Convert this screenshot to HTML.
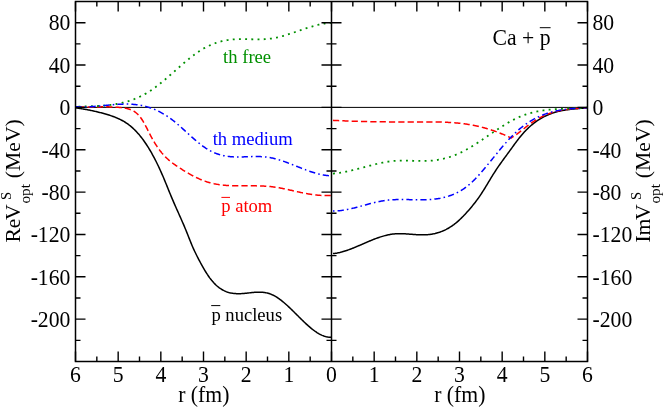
<!DOCTYPE html>
<html><head><meta charset="utf-8"><title>chart</title><style>html,body{margin:0;padding:0;background:#fff}body{width:664px;height:407px;overflow:hidden;font-family:"Liberation Serif",serif}</style></head><body><div style="will-change:transform;width:664px;height:407px">
<svg width="664" height="407" viewBox="0 0 664 407" style="display:block;font-family:'Liberation Serif',serif">
<rect width="664" height="407" fill="#fff"/>
<line x1="75.5" y1="107.4" x2="587.5" y2="107.4" stroke="#000" stroke-width="1"/>
<path d="M75.50 107.90 L76.36 108.01 L77.21 108.12 L78.07 108.24 L78.92 108.36 L79.78 108.48 L80.64 108.61 L81.49 108.74 L82.35 108.88 L83.21 109.02 L84.06 109.16 L84.92 109.31 L85.77 109.46 L86.63 109.61 L87.49 109.77 L88.34 109.93 L89.20 110.10 L90.06 110.27 L90.91 110.44 L91.77 110.62 L92.62 110.80 L93.48 110.99 L94.34 111.18 L95.19 111.37 L96.05 111.57 L96.90 111.78 L97.76 111.98 L98.62 112.19 L99.47 112.41 L100.33 112.63 L101.19 112.85 L102.04 113.08 L102.90 113.31 L103.75 113.55 L104.61 113.79 L105.47 114.03 L106.32 114.28 L107.18 114.53 L108.04 114.79 L108.89 115.05 L109.75 115.32 L110.60 115.60 L111.46 115.89 L112.32 116.18 L113.17 116.49 L114.03 116.80 L114.88 117.13 L115.74 117.47 L116.60 117.82 L117.45 118.19 L118.31 118.57 L119.17 118.97 L120.02 119.38 L120.88 119.81 L121.73 120.26 L122.59 120.73 L123.45 121.22 L124.30 121.73 L125.16 122.26 L126.02 122.81 L126.87 123.39 L127.73 123.99 L128.58 124.61 L129.44 125.26 L130.30 125.94 L131.15 126.65 L132.01 127.38 L132.86 128.14 L133.72 128.94 L134.58 129.76 L135.43 130.62 L136.29 131.50 L137.15 132.42 L138.00 133.38 L138.86 134.36 L139.71 135.38 L140.57 136.43 L141.43 137.52 L142.28 138.64 L143.14 139.79 L143.99 140.98 L144.85 142.20 L145.71 143.45 L146.56 144.74 L147.42 146.07 L148.28 147.43 L149.13 148.82 L149.99 150.25 L150.84 151.72 L151.70 153.22 L152.56 154.76 L153.41 156.33 L154.27 157.94 L155.13 159.59 L155.98 161.27 L156.84 162.99 L157.69 164.74 L158.55 166.54 L159.41 168.37 L160.26 170.24 L161.12 172.14 L161.97 174.08 L162.83 176.06 L163.69 178.06 L164.54 180.10 L165.40 182.17 L166.26 184.26 L167.11 186.37 L167.97 188.49 L168.82 190.61 L169.68 192.73 L170.54 194.82 L171.39 196.88 L172.25 198.91 L173.11 200.91 L173.96 202.89 L174.82 204.84 L175.67 206.78 L176.53 208.70 L177.39 210.62 L178.24 212.53 L179.10 214.44 L179.95 216.36 L180.81 218.28 L181.67 220.22 L182.52 222.18 L183.38 224.16 L184.24 226.17 L185.09 228.21 L185.95 230.29 L186.80 232.40 L187.66 234.55 L188.52 236.70 L189.37 238.86 L190.23 241.00 L191.09 243.11 L191.94 245.18 L192.80 247.19 L193.65 249.13 L194.51 250.99 L195.37 252.78 L196.22 254.52 L197.08 256.22 L197.93 257.89 L198.79 259.54 L199.65 261.17 L200.50 262.77 L201.36 264.35 L202.22 265.90 L203.07 267.41 L203.93 268.89 L204.78 270.34 L205.64 271.75 L206.50 273.11 L207.35 274.44 L208.21 275.72 L209.07 276.95 L209.92 278.12 L210.78 279.25 L211.63 280.32 L212.49 281.35 L213.35 282.32 L214.20 283.24 L215.06 284.11 L215.91 284.94 L216.77 285.72 L217.63 286.45 L218.48 287.15 L219.34 287.79 L220.20 288.40 L221.05 288.97 L221.91 289.50 L222.76 289.99 L223.62 290.44 L224.48 290.86 L225.33 291.25 L226.19 291.60 L227.05 291.92 L227.90 292.21 L228.76 292.47 L229.61 292.70 L230.47 292.90 L231.33 293.08 L232.18 293.23 L233.04 293.36 L233.89 293.46 L234.75 293.55 L235.61 293.61 L236.46 293.66 L237.32 293.69 L238.18 293.70 L239.03 293.69 L239.89 293.68 L240.74 293.64 L241.60 293.60 L242.46 293.54 L243.31 293.48 L244.17 293.41 L245.03 293.33 L245.88 293.24 L246.74 293.15 L247.59 293.06 L248.45 292.97 L249.31 292.87 L250.16 292.78 L251.02 292.68 L251.87 292.60 L252.73 292.51 L253.59 292.43 L254.44 292.36 L255.30 292.30 L256.16 292.25 L257.01 292.21 L257.87 292.18 L258.72 292.16 L259.58 292.16 L260.44 292.18 L261.29 292.21 L262.15 292.27 L263.01 292.34 L263.86 292.43 L264.72 292.55 L265.57 292.69 L266.43 292.86 L267.29 293.05 L268.14 293.27 L269.00 293.52 L269.85 293.81 L270.71 294.12 L271.57 294.46 L272.42 294.84 L273.28 295.26 L274.14 295.70 L274.99 296.17 L275.85 296.67 L276.70 297.20 L277.56 297.75 L278.42 298.33 L279.27 298.94 L280.13 299.57 L280.98 300.22 L281.84 300.89 L282.70 301.58 L283.55 302.28 L284.41 303.01 L285.27 303.75 L286.12 304.51 L286.98 305.28 L287.83 306.07 L288.69 306.86 L289.55 307.67 L290.40 308.49 L291.26 309.31 L292.12 310.15 L292.97 310.99 L293.83 311.83 L294.68 312.68 L295.54 313.53 L296.40 314.39 L297.25 315.24 L298.11 316.09 L298.96 316.95 L299.82 317.80 L300.68 318.64 L301.53 319.49 L302.39 320.32 L303.25 321.15 L304.10 321.97 L304.96 322.78 L305.81 323.58 L306.67 324.37 L307.53 325.14 L308.38 325.91 L309.24 326.65 L310.10 327.39 L310.95 328.10 L311.81 328.80 L312.66 329.47 L313.52 330.13 L314.38 330.76 L315.23 331.38 L316.09 331.96 L316.94 332.53 L317.80 333.06 L318.66 333.57 L319.51 334.05 L320.37 334.51 L321.23 334.93 L322.08 335.32 L322.94 335.67 L323.79 336.00 L324.65 336.29 L325.51 336.54 L326.36 336.75 L327.22 336.93 L328.08 337.06 L328.93 337.16 L329.79 337.22 L330.64 337.23 L331.50 337.19" fill="none" stroke="#000" stroke-width="1.5"/>
<path d="M75.50 106.80 L76.36 106.86 L77.21 106.90 L78.07 106.95 L78.92 106.99 L79.78 107.02 L80.64 107.04 L81.49 107.07 L82.35 107.08 L83.21 107.10 L84.06 107.11 L84.92 107.11 L85.77 107.11 L86.63 107.11 L87.49 107.11 L88.34 107.10 L89.20 107.09 L90.06 107.08 L90.91 107.07 L91.77 107.05 L92.62 107.04 L93.48 107.02 L94.34 107.00 L95.19 106.98 L96.05 106.96 L96.90 106.95 L97.76 106.93 L98.62 106.91 L99.47 106.89 L100.33 106.88 L101.19 106.87 L102.04 106.85 L102.90 106.84 L103.75 106.84 L104.61 106.83 L105.47 106.83 L106.32 106.83 L107.18 106.84 L108.04 106.85 L108.89 106.86 L109.75 106.88 L110.60 106.90 L111.46 106.92 L112.32 106.95 L113.17 106.99 L114.03 107.03 L114.88 107.08 L115.74 107.14 L116.60 107.20 L117.45 107.27 L118.31 107.34 L119.17 107.42 L120.02 107.51 L120.88 107.61 L121.73 107.72 L122.59 107.83 L123.45 107.95 L124.30 108.09 L125.16 108.23 L126.02 108.38 L126.87 108.56 L127.73 108.75 L128.58 108.97 L129.44 109.23 L130.30 109.52 L131.15 109.85 L132.01 110.22 L132.86 110.65 L133.72 111.13 L134.58 111.68 L135.43 112.28 L136.29 112.96 L137.15 113.71 L138.00 114.54 L138.86 115.45 L139.71 116.45 L140.57 117.54 L141.43 118.73 L142.28 120.02 L143.14 121.41 L143.99 122.88 L144.85 124.42 L145.71 126.02 L146.56 127.67 L147.42 129.36 L148.28 131.06 L149.13 132.75 L149.99 134.42 L150.84 136.05 L151.70 137.63 L152.56 139.18 L153.41 140.67 L154.27 142.12 L155.13 143.53 L155.98 144.89 L156.84 146.21 L157.69 147.48 L158.55 148.70 L159.41 149.87 L160.26 151.00 L161.12 152.08 L161.97 153.12 L162.83 154.11 L163.69 155.07 L164.54 155.99 L165.40 156.87 L166.26 157.72 L167.11 158.53 L167.97 159.32 L168.82 160.07 L169.68 160.80 L170.54 161.50 L171.39 162.19 L172.25 162.85 L173.11 163.49 L173.96 164.11 L174.82 164.72 L175.67 165.31 L176.53 165.89 L177.39 166.46 L178.24 167.03 L179.10 167.58 L179.95 168.14 L180.81 168.68 L181.67 169.23 L182.52 169.77 L183.38 170.30 L184.24 170.83 L185.09 171.35 L185.95 171.87 L186.80 172.38 L187.66 172.88 L188.52 173.38 L189.37 173.87 L190.23 174.35 L191.09 174.82 L191.94 175.29 L192.80 175.75 L193.65 176.20 L194.51 176.64 L195.37 177.07 L196.22 177.49 L197.08 177.90 L197.93 178.30 L198.79 178.69 L199.65 179.07 L200.50 179.44 L201.36 179.80 L202.22 180.15 L203.07 180.48 L203.93 180.80 L204.78 181.11 L205.64 181.41 L206.50 181.69 L207.35 181.97 L208.21 182.23 L209.07 182.48 L209.92 182.71 L210.78 182.94 L211.63 183.15 L212.49 183.36 L213.35 183.55 L214.20 183.74 L215.06 183.91 L215.91 184.08 L216.77 184.23 L217.63 184.38 L218.48 184.51 L219.34 184.64 L220.20 184.76 L221.05 184.88 L221.91 184.98 L222.76 185.08 L223.62 185.17 L224.48 185.25 L225.33 185.33 L226.19 185.40 L227.05 185.46 L227.90 185.52 L228.76 185.57 L229.61 185.62 L230.47 185.66 L231.33 185.70 L232.18 185.73 L233.04 185.76 L233.89 185.79 L234.75 185.81 L235.61 185.82 L236.46 185.84 L237.32 185.85 L238.18 185.86 L239.03 185.86 L239.89 185.87 L240.74 185.87 L241.60 185.87 L242.46 185.87 L243.31 185.87 L244.17 185.86 L245.03 185.86 L245.88 185.86 L246.74 185.85 L247.59 185.85 L248.45 185.85 L249.31 185.84 L250.16 185.84 L251.02 185.84 L251.87 185.84 L252.73 185.84 L253.59 185.85 L254.44 185.85 L255.30 185.86 L256.16 185.87 L257.01 185.88 L257.87 185.90 L258.72 185.91 L259.58 185.94 L260.44 185.96 L261.29 185.99 L262.15 186.02 L263.01 186.06 L263.86 186.10 L264.72 186.15 L265.57 186.20 L266.43 186.26 L267.29 186.32 L268.14 186.39 L269.00 186.46 L269.85 186.54 L270.71 186.62 L271.57 186.72 L272.42 186.81 L273.28 186.92 L274.14 187.03 L274.99 187.15 L275.85 187.28 L276.70 187.41 L277.56 187.55 L278.42 187.70 L279.27 187.85 L280.13 188.00 L280.98 188.16 L281.84 188.33 L282.70 188.50 L283.55 188.67 L284.41 188.85 L285.27 189.03 L286.12 189.21 L286.98 189.40 L287.83 189.58 L288.69 189.77 L289.55 189.96 L290.40 190.16 L291.26 190.35 L292.12 190.54 L292.97 190.74 L293.83 190.93 L294.68 191.12 L295.54 191.32 L296.40 191.51 L297.25 191.70 L298.11 191.89 L298.96 192.07 L299.82 192.26 L300.68 192.44 L301.53 192.62 L302.39 192.79 L303.25 192.96 L304.10 193.13 L304.96 193.29 L305.81 193.45 L306.67 193.61 L307.53 193.75 L308.38 193.90 L309.24 194.04 L310.10 194.17 L310.95 194.30 L311.81 194.43 L312.66 194.55 L313.52 194.66 L314.38 194.77 L315.23 194.87 L316.09 194.96 L316.94 195.05 L317.80 195.14 L318.66 195.21 L319.51 195.28 L320.37 195.35 L321.23 195.40 L322.08 195.45 L322.94 195.50 L323.79 195.53 L324.65 195.56 L325.51 195.58 L326.36 195.59 L327.22 195.60 L328.08 195.59 L328.93 195.58 L329.79 195.56 L330.64 195.54 L331.50 195.50" fill="none" stroke="#ff0000" stroke-width="1.5" stroke-dasharray="6.22 3.11" stroke-dashoffset="-2.7"/>
<path d="M75.50 106.70 L76.36 106.67 L77.21 106.65 L78.07 106.62 L78.92 106.60 L79.78 106.58 L80.64 106.56 L81.49 106.54 L82.35 106.52 L83.21 106.50 L84.06 106.48 L84.92 106.46 L85.77 106.44 L86.63 106.42 L87.49 106.40 L88.34 106.37 L89.20 106.35 L90.06 106.32 L90.91 106.30 L91.77 106.27 L92.62 106.24 L93.48 106.21 L94.34 106.18 L95.19 106.14 L96.05 106.10 L96.90 106.06 L97.76 106.02 L98.62 105.97 L99.47 105.92 L100.33 105.87 L101.19 105.81 L102.04 105.75 L102.90 105.69 L103.75 105.62 L104.61 105.55 L105.47 105.47 L106.32 105.39 L107.18 105.31 L108.04 105.21 L108.89 105.12 L109.75 105.02 L110.60 104.91 L111.46 104.80 L112.32 104.68 L113.17 104.56 L114.03 104.43 L114.88 104.29 L115.74 104.15 L116.60 104.00 L117.45 103.84 L118.31 103.68 L119.17 103.50 L120.02 103.33 L120.88 103.14 L121.73 102.95 L122.59 102.74 L123.45 102.53 L124.30 102.32 L125.16 102.09 L126.02 101.85 L126.87 101.61 L127.73 101.36 L128.58 101.09 L129.44 100.82 L130.30 100.54 L131.15 100.25 L132.01 99.95 L132.86 99.64 L133.72 99.32 L134.58 98.98 L135.43 98.64 L136.29 98.29 L137.15 97.92 L138.00 97.55 L138.86 97.16 L139.71 96.76 L140.57 96.35 L141.43 95.93 L142.28 95.50 L143.14 95.05 L143.99 94.60 L144.85 94.12 L145.71 93.64 L146.56 93.14 L147.42 92.63 L148.28 92.11 L149.13 91.58 L149.99 91.03 L150.84 90.46 L151.70 89.89 L152.56 89.30 L153.41 88.69 L154.27 88.08 L155.13 87.46 L155.98 86.82 L156.84 86.17 L157.69 85.52 L158.55 84.85 L159.41 84.18 L160.26 83.49 L161.12 82.80 L161.97 82.10 L162.83 81.39 L163.69 80.68 L164.54 79.96 L165.40 79.24 L166.26 78.51 L167.11 77.77 L167.97 77.03 L168.82 76.29 L169.68 75.54 L170.54 74.79 L171.39 74.04 L172.25 73.29 L173.11 72.53 L173.96 71.78 L174.82 71.02 L175.67 70.26 L176.53 69.51 L177.39 68.75 L178.24 68.00 L179.10 67.25 L179.95 66.50 L180.81 65.75 L181.67 65.00 L182.52 64.26 L183.38 63.53 L184.24 62.80 L185.09 62.07 L185.95 61.35 L186.80 60.63 L187.66 59.93 L188.52 59.23 L189.37 58.53 L190.23 57.85 L191.09 57.17 L191.94 56.50 L192.80 55.84 L193.65 55.19 L194.51 54.55 L195.37 53.93 L196.22 53.31 L197.08 52.70 L197.93 52.11 L198.79 51.53 L199.65 50.96 L200.50 50.41 L201.36 49.87 L202.22 49.35 L203.07 48.84 L203.93 48.34 L204.78 47.86 L205.64 47.40 L206.50 46.95 L207.35 46.52 L208.21 46.10 L209.07 45.69 L209.92 45.30 L210.78 44.93 L211.63 44.56 L212.49 44.22 L213.35 43.88 L214.20 43.56 L215.06 43.25 L215.91 42.95 L216.77 42.67 L217.63 42.40 L218.48 42.14 L219.34 41.90 L220.20 41.66 L221.05 41.44 L221.91 41.23 L222.76 41.03 L223.62 40.84 L224.48 40.66 L225.33 40.49 L226.19 40.33 L227.05 40.19 L227.90 40.05 L228.76 39.92 L229.61 39.80 L230.47 39.70 L231.33 39.60 L232.18 39.51 L233.04 39.43 L233.89 39.35 L234.75 39.29 L235.61 39.23 L236.46 39.19 L237.32 39.15 L238.18 39.11 L239.03 39.09 L239.89 39.07 L240.74 39.06 L241.60 39.05 L242.46 39.05 L243.31 39.06 L244.17 39.07 L245.03 39.08 L245.88 39.10 L246.74 39.11 L247.59 39.14 L248.45 39.16 L249.31 39.18 L250.16 39.21 L251.02 39.23 L251.87 39.26 L252.73 39.28 L253.59 39.30 L254.44 39.32 L255.30 39.34 L256.16 39.35 L257.01 39.36 L257.87 39.37 L258.72 39.37 L259.58 39.37 L260.44 39.36 L261.29 39.34 L262.15 39.32 L263.01 39.29 L263.86 39.26 L264.72 39.21 L265.57 39.16 L266.43 39.10 L267.29 39.02 L268.14 38.94 L269.00 38.84 L269.85 38.74 L270.71 38.62 L271.57 38.50 L272.42 38.36 L273.28 38.21 L274.14 38.05 L274.99 37.89 L275.85 37.71 L276.70 37.53 L277.56 37.34 L278.42 37.13 L279.27 36.93 L280.13 36.71 L280.98 36.49 L281.84 36.26 L282.70 36.02 L283.55 35.78 L284.41 35.53 L285.27 35.28 L286.12 35.02 L286.98 34.76 L287.83 34.49 L288.69 34.22 L289.55 33.95 L290.40 33.67 L291.26 33.39 L292.12 33.10 L292.97 32.82 L293.83 32.53 L294.68 32.24 L295.54 31.95 L296.40 31.65 L297.25 31.36 L298.11 31.07 L298.96 30.77 L299.82 30.48 L300.68 30.18 L301.53 29.89 L302.39 29.60 L303.25 29.31 L304.10 29.02 L304.96 28.74 L305.81 28.46 L306.67 28.18 L307.53 27.90 L308.38 27.63 L309.24 27.36 L310.10 27.09 L310.95 26.83 L311.81 26.57 L312.66 26.32 L313.52 26.08 L314.38 25.84 L315.23 25.61 L316.09 25.38 L316.94 25.16 L317.80 24.95 L318.66 24.74 L319.51 24.55 L320.37 24.36 L321.23 24.18 L322.08 24.00 L322.94 23.84 L323.79 23.69 L324.65 23.55 L325.51 23.41 L326.36 23.29 L327.22 23.18 L328.08 23.08 L328.93 22.99 L329.79 22.91 L330.64 22.85 L331.50 22.79" fill="none" stroke="#009000" stroke-width="1.8" stroke-dasharray="1.9 4.3" stroke-dashoffset="-3.0"/>
<path d="M75.50 106.70 L76.36 106.76 L77.21 106.81 L78.07 106.85 L78.92 106.89 L79.78 106.91 L80.64 106.93 L81.49 106.95 L82.35 106.95 L83.21 106.95 L84.06 106.94 L84.92 106.93 L85.77 106.91 L86.63 106.88 L87.49 106.85 L88.34 106.81 L89.20 106.77 L90.06 106.73 L90.91 106.68 L91.77 106.62 L92.62 106.56 L93.48 106.50 L94.34 106.43 L95.19 106.37 L96.05 106.30 L96.90 106.22 L97.76 106.15 L98.62 106.07 L99.47 105.99 L100.33 105.91 L101.19 105.82 L102.04 105.74 L102.90 105.66 L103.75 105.57 L104.61 105.49 L105.47 105.40 L106.32 105.32 L107.18 105.24 L108.04 105.15 L108.89 105.07 L109.75 104.99 L110.60 104.91 L111.46 104.84 L112.32 104.76 L113.17 104.69 L114.03 104.62 L114.88 104.56 L115.74 104.49 L116.60 104.43 L117.45 104.38 L118.31 104.33 L119.17 104.28 L120.02 104.24 L120.88 104.20 L121.73 104.17 L122.59 104.14 L123.45 104.12 L124.30 104.11 L125.16 104.10 L126.02 104.09 L126.87 104.10 L127.73 104.11 L128.58 104.13 L129.44 104.15 L130.30 104.19 L131.15 104.23 L132.01 104.28 L132.86 104.34 L133.72 104.40 L134.58 104.48 L135.43 104.56 L136.29 104.66 L137.15 104.77 L138.00 104.88 L138.86 105.01 L139.71 105.14 L140.57 105.29 L141.43 105.45 L142.28 105.62 L143.14 105.80 L143.99 105.99 L144.85 106.20 L145.71 106.42 L146.56 106.65 L147.42 106.89 L148.28 107.15 L149.13 107.42 L149.99 107.70 L150.84 108.00 L151.70 108.30 L152.56 108.63 L153.41 108.96 L154.27 109.31 L155.13 109.67 L155.98 110.04 L156.84 110.43 L157.69 110.84 L158.55 111.25 L159.41 111.68 L160.26 112.13 L161.12 112.58 L161.97 113.06 L162.83 113.54 L163.69 114.04 L164.54 114.56 L165.40 115.09 L166.26 115.63 L167.11 116.19 L167.97 116.77 L168.82 117.36 L169.68 117.96 L170.54 118.58 L171.39 119.21 L172.25 119.86 L173.11 120.53 L173.96 121.21 L174.82 121.90 L175.67 122.60 L176.53 123.32 L177.39 124.05 L178.24 124.78 L179.10 125.53 L179.95 126.28 L180.81 127.04 L181.67 127.81 L182.52 128.58 L183.38 129.36 L184.24 130.14 L185.09 130.92 L185.95 131.70 L186.80 132.48 L187.66 133.27 L188.52 134.05 L189.37 134.83 L190.23 135.60 L191.09 136.38 L191.94 137.14 L192.80 137.90 L193.65 138.66 L194.51 139.41 L195.37 140.14 L196.22 140.87 L197.08 141.59 L197.93 142.30 L198.79 143.00 L199.65 143.68 L200.50 144.36 L201.36 145.01 L202.22 145.66 L203.07 146.29 L203.93 146.90 L204.78 147.49 L205.64 148.07 L206.50 148.62 L207.35 149.16 L208.21 149.68 L209.07 150.17 L209.92 150.65 L210.78 151.10 L211.63 151.54 L212.49 151.95 L213.35 152.34 L214.20 152.71 L215.06 153.07 L215.91 153.40 L216.77 153.72 L217.63 154.02 L218.48 154.30 L219.34 154.57 L220.20 154.81 L221.05 155.05 L221.91 155.26 L222.76 155.46 L223.62 155.65 L224.48 155.82 L225.33 155.98 L226.19 156.12 L227.05 156.25 L227.90 156.37 L228.76 156.48 L229.61 156.57 L230.47 156.65 L231.33 156.72 L232.18 156.78 L233.04 156.83 L233.89 156.88 L234.75 156.91 L235.61 156.94 L236.46 156.95 L237.32 156.96 L238.18 156.97 L239.03 156.97 L239.89 156.96 L240.74 156.95 L241.60 156.93 L242.46 156.91 L243.31 156.89 L244.17 156.86 L245.03 156.84 L245.88 156.81 L246.74 156.78 L247.59 156.75 L248.45 156.72 L249.31 156.69 L250.16 156.66 L251.02 156.63 L251.87 156.60 L252.73 156.58 L253.59 156.56 L254.44 156.55 L255.30 156.54 L256.16 156.53 L257.01 156.53 L257.87 156.54 L258.72 156.55 L259.58 156.57 L260.44 156.60 L261.29 156.64 L262.15 156.68 L263.01 156.74 L263.86 156.80 L264.72 156.87 L265.57 156.96 L266.43 157.06 L267.29 157.17 L268.14 157.29 L269.00 157.42 L269.85 157.57 L270.71 157.73 L271.57 157.90 L272.42 158.08 L273.28 158.27 L274.14 158.48 L274.99 158.69 L275.85 158.92 L276.70 159.15 L277.56 159.39 L278.42 159.64 L279.27 159.90 L280.13 160.17 L280.98 160.44 L281.84 160.72 L282.70 161.01 L283.55 161.31 L284.41 161.61 L285.27 161.91 L286.12 162.22 L286.98 162.54 L287.83 162.86 L288.69 163.18 L289.55 163.51 L290.40 163.84 L291.26 164.17 L292.12 164.51 L292.97 164.85 L293.83 165.18 L294.68 165.53 L295.54 165.87 L296.40 166.21 L297.25 166.55 L298.11 166.89 L298.96 167.23 L299.82 167.57 L300.68 167.91 L301.53 168.25 L302.39 168.58 L303.25 168.91 L304.10 169.24 L304.96 169.56 L305.81 169.89 L306.67 170.20 L307.53 170.51 L308.38 170.82 L309.24 171.12 L310.10 171.42 L310.95 171.71 L311.81 171.99 L312.66 172.27 L313.52 172.54 L314.38 172.80 L315.23 173.05 L316.09 173.30 L316.94 173.53 L317.80 173.76 L318.66 173.97 L319.51 174.18 L320.37 174.38 L321.23 174.56 L322.08 174.74 L322.94 174.90 L323.79 175.05 L324.65 175.19 L325.51 175.31 L326.36 175.42 L327.22 175.52 L328.08 175.61 L328.93 175.68 L329.79 175.73 L330.64 175.77 L331.50 175.80" fill="none" stroke="#0000ff" stroke-width="1.5" stroke-dasharray="6.22 3.11 1.56 3.11"/>
<path d="M333.00 253.62 L333.85 253.53 L334.70 253.43 L335.55 253.30 L336.40 253.17 L337.26 253.02 L338.11 252.85 L338.96 252.67 L339.81 252.48 L340.66 252.27 L341.51 252.06 L342.36 251.82 L343.21 251.58 L344.07 251.33 L344.92 251.07 L345.77 250.79 L346.62 250.51 L347.47 250.22 L348.32 249.91 L349.17 249.61 L350.02 249.29 L350.87 248.97 L351.73 248.63 L352.58 248.30 L353.43 247.96 L354.28 247.61 L355.13 247.26 L355.98 246.90 L356.83 246.54 L357.68 246.18 L358.54 245.81 L359.39 245.45 L360.24 245.08 L361.09 244.71 L361.94 244.33 L362.79 243.96 L363.64 243.59 L364.49 243.22 L365.34 242.85 L366.20 242.49 L367.05 242.12 L367.90 241.76 L368.75 241.40 L369.60 241.04 L370.45 240.69 L371.30 240.34 L372.15 239.99 L373.01 239.65 L373.86 239.32 L374.71 238.99 L375.56 238.67 L376.41 238.35 L377.26 238.04 L378.11 237.74 L378.96 237.45 L379.81 237.16 L380.67 236.88 L381.52 236.61 L382.37 236.35 L383.22 236.10 L384.07 235.86 L384.92 235.63 L385.77 235.41 L386.62 235.20 L387.47 235.00 L388.33 234.82 L389.18 234.65 L390.03 234.49 L390.88 234.34 L391.73 234.21 L392.58 234.09 L393.43 233.99 L394.28 233.90 L395.14 233.82 L395.99 233.76 L396.84 233.72 L397.69 233.68 L398.54 233.66 L399.39 233.65 L400.24 233.65 L401.09 233.66 L401.94 233.68 L402.80 233.71 L403.65 233.74 L404.50 233.79 L405.35 233.83 L406.20 233.89 L407.05 233.94 L407.90 234.01 L408.75 234.07 L409.61 234.14 L410.46 234.20 L411.31 234.27 L412.16 234.34 L413.01 234.41 L413.86 234.48 L414.71 234.54 L415.56 234.60 L416.41 234.66 L417.27 234.71 L418.12 234.75 L418.97 234.79 L419.82 234.83 L420.67 234.85 L421.52 234.87 L422.37 234.87 L423.22 234.87 L424.08 234.86 L424.93 234.83 L425.78 234.80 L426.63 234.75 L427.48 234.68 L428.33 234.61 L429.18 234.52 L430.03 234.42 L430.88 234.30 L431.74 234.17 L432.59 234.02 L433.44 233.86 L434.29 233.68 L435.14 233.49 L435.99 233.28 L436.84 233.06 L437.69 232.82 L438.55 232.56 L439.40 232.28 L440.25 231.99 L441.10 231.67 L441.95 231.34 L442.80 230.99 L443.65 230.62 L444.50 230.23 L445.35 229.83 L446.21 229.40 L447.06 228.95 L447.91 228.48 L448.76 227.99 L449.61 227.47 L450.46 226.94 L451.31 226.38 L452.16 225.80 L453.02 225.19 L453.87 224.57 L454.72 223.92 L455.57 223.24 L456.42 222.55 L457.27 221.83 L458.12 221.08 L458.97 220.32 L459.82 219.54 L460.68 218.73 L461.53 217.91 L462.38 217.06 L463.23 216.20 L464.08 215.32 L464.93 214.42 L465.78 213.51 L466.63 212.57 L467.48 211.62 L468.34 210.66 L469.19 209.68 L470.04 208.68 L470.89 207.67 L471.74 206.65 L472.59 205.61 L473.44 204.56 L474.29 203.49 L475.15 202.41 L476.00 201.30 L476.85 200.17 L477.70 199.01 L478.55 197.82 L479.40 196.60 L480.25 195.35 L481.10 194.08 L481.95 192.78 L482.81 191.46 L483.66 190.11 L484.51 188.74 L485.36 187.35 L486.21 185.95 L487.06 184.53 L487.91 183.11 L488.76 181.69 L489.62 180.27 L490.47 178.86 L491.32 177.46 L492.17 176.08 L493.02 174.72 L493.87 173.38 L494.72 172.06 L495.57 170.75 L496.42 169.46 L497.28 168.19 L498.13 166.94 L498.98 165.70 L499.83 164.47 L500.68 163.26 L501.53 162.06 L502.38 160.88 L503.23 159.70 L504.09 158.54 L504.94 157.38 L505.79 156.23 L506.64 155.08 L507.49 153.92 L508.34 152.76 L509.19 151.60 L510.04 150.42 L510.89 149.25 L511.75 148.07 L512.60 146.89 L513.45 145.72 L514.30 144.55 L515.15 143.39 L516.00 142.24 L516.85 141.10 L517.70 139.98 L518.56 138.88 L519.41 137.80 L520.26 136.74 L521.11 135.71 L521.96 134.70 L522.81 133.72 L523.66 132.77 L524.51 131.84 L525.36 130.94 L526.22 130.06 L527.07 129.20 L527.92 128.37 L528.77 127.57 L529.62 126.78 L530.47 126.02 L531.32 125.29 L532.17 124.57 L533.03 123.88 L533.88 123.21 L534.73 122.56 L535.58 121.93 L536.43 121.32 L537.28 120.73 L538.13 120.16 L538.98 119.61 L539.83 119.07 L540.69 118.56 L541.54 118.07 L542.39 117.59 L543.24 117.13 L544.09 116.68 L544.94 116.26 L545.79 115.85 L546.64 115.45 L547.49 115.07 L548.35 114.71 L549.20 114.36 L550.05 114.02 L550.90 113.70 L551.75 113.39 L552.60 113.10 L553.45 112.82 L554.30 112.55 L555.16 112.29 L556.01 112.05 L556.86 111.81 L557.71 111.59 L558.56 111.38 L559.41 111.18 L560.26 110.98 L561.11 110.80 L561.96 110.63 L562.82 110.46 L563.67 110.31 L564.52 110.16 L565.37 110.02 L566.22 109.88 L567.07 109.76 L567.92 109.64 L568.77 109.52 L569.63 109.41 L570.48 109.31 L571.33 109.21 L572.18 109.12 L573.03 109.03 L573.88 108.94 L574.73 108.86 L575.58 108.78 L576.43 108.71 L577.29 108.63 L578.14 108.56 L578.99 108.49 L579.84 108.42 L580.69 108.36 L581.54 108.29 L582.39 108.22 L583.24 108.15 L584.10 108.09 L584.95 108.02 L585.80 107.95 L586.65 107.87 L587.50 107.80" fill="none" stroke="#000" stroke-width="1.5"/>
<path d="M333.00 120.35 L333.60 120.38 L334.19 120.41 L334.79 120.44 L335.38 120.47 L335.98 120.50 L336.57 120.53 L337.17 120.56 L337.76 120.58 L338.36 120.61 L338.95 120.64 L339.55 120.67 L340.14 120.69 L340.74 120.72 L341.33 120.75 L341.93 120.77 L342.53 120.80 L343.12 120.82 L343.72 120.85 L344.31 120.87 L344.91 120.89 L345.50 120.92 L346.10 120.94 L346.69 120.96 L347.29 120.99 L347.88 121.01 L348.48 121.03 L349.07 121.05 L349.67 121.07 L350.26 121.10 L350.86 121.12 L351.45 121.14 L352.05 121.16 L352.65 121.18 L353.24 121.20 L353.84 121.22 L354.43 121.24 L355.03 121.25 L355.62 121.27 L356.22 121.29 L356.81 121.31 L357.41 121.33 L358.00 121.34 L358.60 121.36 L359.19 121.38 L359.79 121.39 L360.38 121.41 L360.98 121.43 L361.58 121.44 L362.17 121.46 L362.77 121.47 L363.36 121.49 L363.96 121.50 L364.55 121.52 L365.15 121.53 L365.74 121.54 L366.34 121.56 L366.93 121.57 L367.53 121.58 L368.12 121.60 L368.72 121.61 L369.31 121.62 L369.91 121.63 L370.51 121.65 L371.10 121.66 L371.70 121.67 L372.29 121.68 L372.89 121.69 L373.48 121.70 L374.08 121.71 L374.67 121.72 L375.27 121.73 L375.86 121.74 L376.46 121.75 L377.05 121.76 L377.65 121.77 L378.24 121.78 L378.84 121.79 L379.43 121.79 L380.03 121.80 L380.63 121.81 L381.22 121.82 L381.82 121.83 L382.41 121.83 L383.01 121.84 L383.60 121.85 L384.20 121.85 L384.79 121.86 L385.39 121.87 L385.98 121.87 L386.58 121.88 L387.17 121.88 L387.77 121.89 L388.36 121.90 L388.96 121.90 L389.56 121.91 L390.15 121.91 L390.75 121.91 L391.34 121.92 L391.94 121.92 L392.53 121.93 L393.13 121.93 L393.72 121.94 L394.32 121.94 L394.91 121.94 L395.51 121.95 L396.10 121.95 L396.70 121.95 L397.29 121.95 L397.89 121.96 L398.48 121.96 L399.08 121.96 L399.68 121.96 L400.27 121.96 L400.87 121.97 L401.46 121.97 L402.06 121.97 L402.65 121.97 L403.25 121.97 L403.84 121.97 L404.44 121.97 L405.03 121.98 L405.63 121.98 L406.22 121.98 L406.82 121.98 L407.41 121.98 L408.01 121.98 L408.61 121.98 L409.20 121.98 L409.80 121.98 L410.39 121.98 L410.99 121.98 L411.58 121.97 L412.18 121.97 L412.77 121.97 L413.37 121.97 L413.96 121.97 L414.56 121.97 L415.15 121.97 L415.75 121.97 L416.34 121.97 L416.94 121.96 L417.54 121.96 L418.13 121.96 L418.73 121.96 L419.32 121.96 L419.92 121.96 L420.51 121.95 L421.11 121.95 L421.70 121.95 L422.30 121.95 L422.89 121.95 L423.49 121.94 L424.08 121.94 L424.68 121.94 L425.27 121.94 L425.87 121.94 L426.46 121.94 L427.06 121.94 L427.66 121.94 L428.25 121.94 L428.85 121.94 L429.44 121.94 L430.04 121.94 L430.63 121.94 L431.23 121.95 L431.82 121.95 L432.42 121.95 L433.01 121.96 L433.61 121.96 L434.20 121.97 L434.80 121.98 L435.39 121.98 L435.99 121.99 L436.59 122.00 L437.18 122.01 L437.78 122.02 L438.37 122.03 L438.97 122.04 L439.56 122.06 L440.16 122.07 L440.75 122.09 L441.35 122.10 L441.94 122.12 L442.54 122.14 L443.13 122.16 L443.73 122.18 L444.32 122.20 L444.92 122.22 L445.52 122.25 L446.11 122.27 L446.71 122.30 L447.30 122.33 L447.90 122.36 L448.49 122.39 L449.09 122.42 L449.68 122.46 L450.28 122.49 L450.87 122.53 L451.47 122.57 L452.06 122.61 L452.66 122.65 L453.25 122.69 L453.85 122.74 L454.44 122.78 L455.04 122.83 L455.64 122.88 L456.23 122.93 L456.83 122.99 L457.42 123.04 L458.02 123.10 L458.61 123.16 L459.21 123.22 L459.80 123.28 L460.40 123.35 L460.99 123.41 L461.59 123.48 L462.18 123.55 L462.78 123.63 L463.37 123.70 L463.97 123.78 L464.57 123.86 L465.16 123.94 L465.76 124.03 L466.35 124.11 L466.95 124.20 L467.54 124.29 L468.14 124.39 L468.73 124.48 L469.33 124.58 L469.92 124.68 L470.52 124.79 L471.11 124.89 L471.71 125.00 L472.30 125.11 L472.90 125.22 L473.49 125.34 L474.09 125.45 L474.69 125.57 L475.28 125.70 L475.88 125.82 L476.47 125.95 L477.07 126.08 L477.66 126.21 L478.26 126.35 L478.85 126.48 L479.45 126.62 L480.04 126.77 L480.64 126.91 L481.23 127.06 L481.83 127.21 L482.42 127.36 L483.02 127.52 L483.62 127.68 L484.21 127.84 L484.81 128.00 L485.40 128.17 L486.00 128.34 L486.59 128.51 L487.19 128.68 L487.78 128.86 L488.38 129.04 L488.97 129.22 L489.57 129.41 L490.16 129.59 L490.76 129.78 L491.35 129.98 L491.95 130.17 L492.55 130.37 L493.14 130.57 L493.74 130.78 L494.33 130.99 L494.93 131.20 L495.52 131.41 L496.12 131.62 L496.71 131.84 L497.31 132.06 L497.90 132.29 L498.50 132.51 L499.09 132.74 L499.69 132.97 L500.28 133.21 L500.88 133.45 L501.47 133.69 L502.07 133.93 L502.67 134.17 L503.26 134.42 L503.86 134.67 L504.45 134.93 L505.05 135.19 L505.64 135.44 L506.24 135.71 L506.83 135.97 L507.43 136.24 L508.02 136.51 L508.62 136.78 L509.21 137.06 L509.81 137.34 L510.40 137.62 L511.00 137.91 L511.00 137.90 L511.26 137.77 L511.51 137.64 L511.77 137.50 L512.02 137.36 L512.28 137.21 L512.54 137.07 L512.79 136.91 L513.05 136.76 L513.30 136.61 L513.56 136.45 L513.81 136.28 L514.07 136.12 L514.33 135.95 L514.58 135.78 L514.84 135.61 L515.09 135.44 L515.35 135.26 L515.61 135.09 L515.86 134.91 L516.12 134.72 L516.37 134.54 L516.63 134.35 L516.88 134.17 L517.14 133.98 L517.40 133.79 L517.65 133.59 L517.91 133.40 L518.16 133.21 L518.42 133.01 L518.68 132.81 L518.93 132.61 L519.19 132.41 L519.44 132.21 L519.70 132.01 L519.95 131.81 L520.21 131.60 L520.47 131.40 L520.72 131.20 L520.98 130.99 L521.23 130.78 L521.49 130.58 L521.75 130.37 L522.00 130.16 L522.26 129.96 L522.51 129.75 L522.77 129.54 L523.03 129.34 L523.28 129.13 L523.54 128.92 L523.79 128.71 L524.05 128.51 L524.30 128.30 L524.56 128.10 L524.82 127.89 L525.07 127.69 L525.33 127.48 L525.58 127.28 L525.84 127.08 L526.10 126.88 L526.35 126.68 L526.61 126.48 L526.86 126.28 L527.12 126.08 L527.37 125.89 L527.63 125.69 L527.89 125.50 L528.14 125.31 L528.40 125.12 L528.65 124.93 L528.91 124.74 L529.17 124.55 L529.42 124.36 L529.68 124.18 L529.93 123.99 L530.19 123.81 L530.44 123.63 L530.70 123.45 L530.96 123.27 L531.21 123.09 L531.47 122.91 L531.72 122.74 L531.98 122.56 L532.24 122.39 L532.49 122.22 L532.75 122.05 L533.00 121.88 L533.26 121.71 L533.52 121.54 L533.77 121.37 L534.03 121.21 L534.28 121.04 L534.54 120.88 L534.79 120.72 L535.05 120.56 L535.31 120.40 L535.56 120.24 L535.82 120.08 L536.07 119.93 L536.33 119.77 L536.59 119.62 L536.84 119.47 L537.10 119.32 L537.35 119.17 L537.61 119.02 L537.86 118.87 L538.12 118.73 L538.38 118.58 L538.63 118.44 L538.89 118.29 L539.14 118.15 L539.40 118.01 L539.66 117.87 L539.91 117.74 L540.17 117.60 L540.42 117.46 L540.68 117.33 L540.93 117.20 L541.19 117.07 L541.45 116.94 L541.70 116.81 L541.96 116.68 L542.21 116.55 L542.47 116.43 L542.73 116.30 L542.98 116.18 L543.24 116.06 L543.49 115.94 L543.75 115.82 L544.01 115.70 L544.26 115.58 L544.52 115.47 L544.77 115.35 L545.03 115.24 L545.28 115.13 L545.54 115.01 L545.80 114.90 L546.05 114.80 L546.31 114.69 L546.56 114.58 L546.82 114.48 L547.08 114.37 L547.33 114.27 L547.59 114.17 L547.84 114.07 L548.10 113.97 L548.35 113.88 L548.61 113.78 L548.87 113.68 L549.12 113.59 L549.38 113.50 L549.63 113.41 L549.89 113.32 L550.15 113.23 L550.40 113.14 L550.66 113.05 L550.91 112.97 L551.17 112.88 L551.42 112.80 L551.68 112.72 L551.94 112.64 L552.19 112.56 L552.45 112.48 L552.70 112.40 L552.96 112.32 L553.22 112.25 L553.47 112.17 L553.73 112.10 L553.98 112.02 L554.24 111.95 L554.49 111.88 L554.75 111.81 L555.01 111.74 L555.26 111.68 L555.52 111.61 L555.77 111.54 L556.03 111.48 L556.29 111.41 L556.54 111.35 L556.80 111.29 L557.05 111.23 L557.31 111.17 L557.57 111.11 L557.82 111.05 L558.08 110.99 L558.33 110.93 L558.59 110.88 L558.84 110.82 L559.10 110.77 L559.36 110.72 L559.61 110.66 L559.87 110.61 L560.12 110.56 L560.38 110.51 L560.64 110.46 L560.89 110.41 L561.15 110.36 L561.40 110.32 L561.66 110.27 L561.91 110.22 L562.17 110.18 L562.43 110.13 L562.68 110.09 L562.94 110.05 L563.19 110.01 L563.45 109.96 L563.71 109.92 L563.96 109.88 L564.22 109.84 L564.47 109.80 L564.73 109.77 L564.98 109.73 L565.24 109.69 L565.50 109.65 L565.75 109.62 L566.01 109.58 L566.26 109.55 L566.52 109.51 L566.78 109.48 L567.03 109.45 L567.29 109.41 L567.54 109.38 L567.80 109.35 L568.06 109.32 L568.31 109.29 L568.57 109.26 L568.82 109.23 L569.08 109.20 L569.33 109.17 L569.59 109.14 L569.85 109.11 L570.10 109.09 L570.36 109.06 L570.61 109.03 L570.87 109.01 L571.13 108.98 L571.38 108.95 L571.64 108.93 L571.89 108.90 L572.15 108.88 L572.40 108.86 L572.66 108.83 L572.92 108.81 L573.17 108.79 L573.43 108.76 L573.68 108.74 L573.94 108.72 L574.20 108.70 L574.45 108.67 L574.71 108.65 L574.96 108.63 L575.22 108.61 L575.47 108.59 L575.73 108.57 L575.99 108.55 L576.24 108.53 L576.50 108.51 L576.75 108.49 L577.01 108.47 L577.27 108.45 L577.52 108.43 L577.78 108.41 L578.03 108.39 L578.29 108.37 L578.55 108.35 L578.80 108.34 L579.06 108.32 L579.31 108.30 L579.57 108.28 L579.82 108.26 L580.08 108.24 L580.34 108.23 L580.59 108.21 L580.85 108.19 L581.10 108.17 L581.36 108.15 L581.62 108.14 L581.87 108.12 L582.13 108.10 L582.38 108.08 L582.64 108.06 L582.89 108.05 L583.15 108.03 L583.41 108.01 L583.66 107.99 L583.92 107.97 L584.17 107.95 L584.43 107.93 L584.69 107.92 L584.94 107.90 L585.20 107.88 L585.45 107.86 L585.71 107.84 L585.96 107.82 L586.22 107.80 L586.48 107.78 L586.73 107.76 L586.99 107.74 L587.24 107.72 L587.50 107.70" fill="none" stroke="#ff0000" stroke-width="1.5" stroke-dasharray="6.22 3.11"/>
<path d="M333.00 173.54 L333.85 173.48 L334.70 173.40 L335.55 173.32 L336.40 173.23 L337.26 173.13 L338.11 173.02 L338.96 172.91 L339.81 172.79 L340.66 172.66 L341.51 172.52 L342.36 172.38 L343.21 172.23 L344.07 172.07 L344.92 171.91 L345.77 171.74 L346.62 171.57 L347.47 171.39 L348.32 171.21 L349.17 171.02 L350.02 170.83 L350.87 170.63 L351.73 170.43 L352.58 170.22 L353.43 170.01 L354.28 169.80 L355.13 169.59 L355.98 169.37 L356.83 169.15 L357.68 168.93 L358.54 168.70 L359.39 168.48 L360.24 168.25 L361.09 168.02 L361.94 167.79 L362.79 167.56 L363.64 167.33 L364.49 167.10 L365.34 166.87 L366.20 166.64 L367.05 166.41 L367.90 166.19 L368.75 165.96 L369.60 165.73 L370.45 165.51 L371.30 165.28 L372.15 165.06 L373.01 164.85 L373.86 164.63 L374.71 164.42 L375.56 164.21 L376.41 164.00 L377.26 163.80 L378.11 163.60 L378.96 163.41 L379.81 163.22 L380.67 163.03 L381.52 162.85 L382.37 162.68 L383.22 162.51 L384.07 162.34 L384.92 162.18 L385.77 162.03 L386.62 161.89 L387.47 161.75 L388.33 161.62 L389.18 161.49 L390.03 161.37 L390.88 161.26 L391.73 161.16 L392.58 161.07 L393.43 160.98 L394.28 160.91 L395.14 160.84 L395.99 160.78 L396.84 160.73 L397.69 160.69 L398.54 160.65 L399.39 160.62 L400.24 160.60 L401.09 160.59 L401.94 160.58 L402.80 160.57 L403.65 160.57 L404.50 160.58 L405.35 160.59 L406.20 160.60 L407.05 160.61 L407.90 160.63 L408.75 160.65 L409.61 160.67 L410.46 160.70 L411.31 160.72 L412.16 160.75 L413.01 160.78 L413.86 160.80 L414.71 160.83 L415.56 160.85 L416.41 160.88 L417.27 160.90 L418.12 160.92 L418.97 160.94 L419.82 160.95 L420.67 160.96 L421.52 160.97 L422.37 160.97 L423.22 160.97 L424.08 160.97 L424.93 160.95 L425.78 160.94 L426.63 160.91 L427.48 160.88 L428.33 160.84 L429.18 160.80 L430.03 160.75 L430.88 160.69 L431.74 160.62 L432.59 160.54 L433.44 160.45 L434.29 160.35 L435.14 160.25 L435.99 160.13 L436.84 160.01 L437.69 159.88 L438.55 159.73 L439.40 159.58 L440.25 159.42 L441.10 159.25 L441.95 159.07 L442.80 158.88 L443.65 158.69 L444.50 158.48 L445.35 158.26 L446.21 158.03 L447.06 157.79 L447.91 157.55 L448.76 157.29 L449.61 157.02 L450.46 156.75 L451.31 156.46 L452.16 156.16 L453.02 155.85 L453.87 155.53 L454.72 155.20 L455.57 154.87 L456.42 154.52 L457.27 154.16 L458.12 153.78 L458.97 153.40 L459.82 153.01 L460.68 152.61 L461.53 152.19 L462.38 151.77 L463.23 151.34 L464.08 150.89 L464.93 150.44 L465.78 149.98 L466.63 149.51 L467.48 149.03 L468.34 148.54 L469.19 148.04 L470.04 147.54 L470.89 147.03 L471.74 146.52 L472.59 145.99 L473.44 145.47 L474.29 144.93 L475.15 144.39 L476.00 143.85 L476.85 143.30 L477.70 142.74 L478.55 142.18 L479.40 141.62 L480.25 141.06 L481.10 140.49 L481.95 139.92 L482.81 139.34 L483.66 138.77 L484.51 138.19 L485.36 137.61 L486.21 137.03 L487.06 136.45 L487.91 135.86 L488.76 135.28 L489.62 134.70 L490.47 134.12 L491.32 133.54 L492.17 132.96 L493.02 132.38 L493.87 131.80 L494.72 131.23 L495.57 130.66 L496.42 130.09 L497.28 129.52 L498.13 128.96 L498.98 128.40 L499.83 127.84 L500.68 127.29 L501.53 126.75 L502.38 126.21 L503.23 125.67 L504.09 125.14 L504.94 124.62 L505.79 124.10 L506.64 123.59 L507.49 123.08 L508.34 122.59 L509.19 122.10 L510.04 121.62 L510.89 121.14 L511.75 120.68 L512.60 120.22 L513.45 119.78 L514.30 119.34 L515.15 118.92 L516.00 118.50 L516.85 118.09 L517.70 117.70 L518.56 117.32 L519.41 116.94 L520.26 116.58 L521.11 116.23 L521.96 115.89 L522.81 115.57 L523.66 115.25 L524.51 114.94 L525.36 114.64 L526.22 114.36 L527.07 114.08 L527.92 113.81 L528.77 113.55 L529.62 113.30 L530.47 113.06 L531.32 112.83 L532.17 112.61 L533.03 112.40 L533.88 112.19 L534.73 111.99 L535.58 111.80 L536.43 111.62 L537.28 111.44 L538.13 111.28 L538.98 111.12 L539.83 110.96 L540.69 110.82 L541.54 110.68 L542.39 110.54 L543.24 110.41 L544.09 110.29 L544.94 110.18 L545.79 110.07 L546.64 109.96 L547.49 109.86 L548.35 109.77 L549.20 109.68 L550.05 109.59 L550.90 109.51 L551.75 109.44 L552.60 109.36 L553.45 109.30 L554.30 109.23 L555.16 109.17 L556.01 109.11 L556.86 109.06 L557.71 109.01 L558.56 108.96 L559.41 108.91 L560.26 108.87 L561.11 108.83 L561.96 108.79 L562.82 108.75 L563.67 108.71 L564.52 108.68 L565.37 108.64 L566.22 108.61 L567.07 108.58 L567.92 108.55 L568.77 108.52 L569.63 108.49 L570.48 108.46 L571.33 108.43 L572.18 108.40 L573.03 108.37 L573.88 108.34 L574.73 108.30 L575.58 108.27 L576.43 108.24 L577.29 108.20 L578.14 108.16 L578.99 108.13 L579.84 108.08 L580.69 108.04 L581.54 108.00 L582.39 107.95 L583.24 107.90 L584.10 107.84 L584.95 107.79 L585.80 107.73 L586.65 107.66 L587.50 107.60" fill="none" stroke="#009000" stroke-width="1.8" stroke-dasharray="1.9 4.3"/>
<path d="M333.00 211.01 L333.85 211.00 L334.70 210.99 L335.55 210.96 L336.40 210.92 L337.26 210.87 L338.11 210.80 L338.96 210.73 L339.81 210.64 L340.66 210.55 L341.51 210.44 L342.36 210.33 L343.21 210.20 L344.07 210.07 L344.92 209.93 L345.77 209.78 L346.62 209.62 L347.47 209.46 L348.32 209.29 L349.17 209.11 L350.02 208.93 L350.87 208.74 L351.73 208.54 L352.58 208.34 L353.43 208.13 L354.28 207.92 L355.13 207.71 L355.98 207.49 L356.83 207.27 L357.68 207.05 L358.54 206.82 L359.39 206.59 L360.24 206.36 L361.09 206.13 L361.94 205.90 L362.79 205.66 L363.64 205.43 L364.49 205.19 L365.34 204.96 L366.20 204.73 L367.05 204.49 L367.90 204.26 L368.75 204.04 L369.60 203.81 L370.45 203.58 L371.30 203.36 L372.15 203.15 L373.01 202.93 L373.86 202.72 L374.71 202.51 L375.56 202.31 L376.41 202.12 L377.26 201.93 L378.11 201.74 L378.96 201.56 L379.81 201.39 L380.67 201.23 L381.52 201.07 L382.37 200.92 L383.22 200.78 L384.07 200.64 L384.92 200.52 L385.77 200.40 L386.62 200.30 L387.47 200.20 L388.33 200.11 L389.18 200.02 L390.03 199.95 L390.88 199.88 L391.73 199.82 L392.58 199.77 L393.43 199.72 L394.28 199.68 L395.14 199.64 L395.99 199.61 L396.84 199.59 L397.69 199.57 L398.54 199.55 L399.39 199.54 L400.24 199.53 L401.09 199.53 L401.94 199.53 L402.80 199.53 L403.65 199.54 L404.50 199.54 L405.35 199.55 L406.20 199.57 L407.05 199.58 L407.90 199.60 L408.75 199.61 L409.61 199.63 L410.46 199.65 L411.31 199.66 L412.16 199.68 L413.01 199.70 L413.86 199.72 L414.71 199.73 L415.56 199.74 L416.41 199.76 L417.27 199.77 L418.12 199.78 L418.97 199.78 L419.82 199.79 L420.67 199.79 L421.52 199.78 L422.37 199.77 L423.22 199.76 L424.08 199.75 L424.93 199.73 L425.78 199.70 L426.63 199.67 L427.48 199.64 L428.33 199.60 L429.18 199.55 L430.03 199.50 L430.88 199.43 L431.74 199.37 L432.59 199.29 L433.44 199.21 L434.29 199.12 L435.14 199.02 L435.99 198.92 L436.84 198.80 L437.69 198.68 L438.55 198.54 L439.40 198.40 L440.25 198.25 L441.10 198.08 L441.95 197.91 L442.80 197.73 L443.65 197.53 L444.50 197.32 L445.35 197.10 L446.21 196.87 L447.06 196.63 L447.91 196.37 L448.76 196.11 L449.61 195.82 L450.46 195.53 L451.31 195.22 L452.16 194.90 L453.02 194.56 L453.87 194.20 L454.72 193.84 L455.57 193.45 L456.42 193.05 L457.27 192.63 L458.12 192.19 L458.97 191.73 L459.82 191.26 L460.68 190.76 L461.53 190.25 L462.38 189.71 L463.23 189.16 L464.08 188.58 L464.93 187.98 L465.78 187.36 L466.63 186.72 L467.48 186.05 L468.34 185.37 L469.19 184.65 L470.04 183.91 L470.89 183.15 L471.74 182.37 L472.59 181.56 L473.44 180.73 L474.29 179.88 L475.15 179.02 L476.00 178.13 L476.85 177.23 L477.70 176.31 L478.55 175.38 L479.40 174.43 L480.25 173.47 L481.10 172.50 L481.95 171.52 L482.81 170.52 L483.66 169.52 L484.51 168.51 L485.36 167.49 L486.21 166.47 L487.06 165.44 L487.91 164.40 L488.76 163.37 L489.62 162.33 L490.47 161.28 L491.32 160.24 L492.17 159.19 L493.02 158.15 L493.87 157.10 L494.72 156.06 L495.57 155.02 L496.42 153.98 L497.28 152.94 L498.13 151.91 L498.98 150.88 L499.83 149.85 L500.68 148.83 L501.53 147.82 L502.38 146.82 L503.23 145.82 L504.09 144.83 L504.94 143.85 L505.79 142.88 L506.64 141.92 L507.49 140.97 L508.34 140.03 L509.19 139.10 L510.04 138.19 L510.89 137.29 L511.75 136.40 L512.60 135.53 L513.45 134.67 L514.30 133.83 L515.15 133.01 L516.00 132.20 L516.85 131.42 L517.70 130.65 L518.56 129.89 L519.41 129.16 L520.26 128.44 L521.11 127.74 L521.96 127.06 L522.81 126.39 L523.66 125.74 L524.51 125.11 L525.36 124.49 L526.22 123.89 L527.07 123.30 L527.92 122.73 L528.77 122.17 L529.62 121.63 L530.47 121.10 L531.32 120.59 L532.17 120.09 L533.03 119.61 L533.88 119.14 L534.73 118.68 L535.58 118.23 L536.43 117.80 L537.28 117.38 L538.13 116.98 L538.98 116.59 L539.83 116.21 L540.69 115.84 L541.54 115.48 L542.39 115.13 L543.24 114.80 L544.09 114.48 L544.94 114.17 L545.79 113.86 L546.64 113.57 L547.49 113.29 L548.35 113.02 L549.20 112.76 L550.05 112.51 L550.90 112.27 L551.75 112.03 L552.60 111.81 L553.45 111.60 L554.30 111.39 L555.16 111.19 L556.01 111.00 L556.86 110.82 L557.71 110.64 L558.56 110.47 L559.41 110.31 L560.26 110.16 L561.11 110.01 L561.96 109.87 L562.82 109.74 L563.67 109.61 L564.52 109.49 L565.37 109.37 L566.22 109.26 L567.07 109.16 L567.92 109.06 L568.77 108.96 L569.63 108.87 L570.48 108.78 L571.33 108.70 L572.18 108.62 L573.03 108.54 L573.88 108.47 L574.73 108.40 L575.58 108.33 L576.43 108.27 L577.29 108.21 L578.14 108.15 L578.99 108.10 L579.84 108.04 L580.69 107.99 L581.54 107.94 L582.39 107.89 L583.24 107.84 L584.10 107.79 L584.95 107.74 L585.80 107.69 L586.65 107.65 L587.50 107.60" fill="none" stroke="#0000ff" stroke-width="1.5" stroke-dasharray="6.22 3.11 1.56 3.11" stroke-dashoffset="-4.6"/>
<g stroke="#000" stroke-width="1.5" fill="none">
<rect x="75.5" y="1.5" width="512.0" height="360.0"/>
<line x1="331.5" y1="1.5" x2="331.5" y2="361.5"/>
<path d="M75.50 361.5v-10M75.50 1.5v10M96.83 361.5v-5M96.83 1.5v5M118.17 361.5v-10M118.17 1.5v10M139.50 361.5v-5M139.50 1.5v5M160.83 361.5v-10M160.83 1.5v10M182.17 361.5v-5M182.17 1.5v5M203.50 361.5v-10M203.50 1.5v10M224.83 361.5v-5M224.83 1.5v5M246.17 361.5v-10M246.17 1.5v10M267.50 361.5v-5M267.50 1.5v5M288.83 361.5v-10M288.83 1.5v10M310.17 361.5v-5M310.17 1.5v5M331.50 361.5v-10M331.50 1.5v10M352.83 361.5v-5M352.83 1.5v5M374.17 361.5v-10M374.17 1.5v10M395.50 361.5v-5M395.50 1.5v5M416.83 361.5v-10M416.83 1.5v10M438.17 361.5v-5M438.17 1.5v5M459.50 361.5v-10M459.50 1.5v10M480.83 361.5v-5M480.83 1.5v5M502.17 361.5v-10M502.17 1.5v10M523.50 361.5v-5M523.50 1.5v5M544.83 361.5v-10M544.83 1.5v10M566.17 361.5v-5M566.17 1.5v5M587.50 361.5v-10M587.50 1.5v10M75.5 340.34h5M587.5 340.34h-5M326.5 340.34h10M75.5 319.16h10M587.5 319.16h-10M321.5 319.16h20M75.5 297.99h5M587.5 297.99h-5M326.5 297.99h10M75.5 276.81h10M587.5 276.81h-10M321.5 276.81h20M75.5 255.64h5M587.5 255.64h-5M326.5 255.64h10M75.5 234.46h10M587.5 234.46h-10M321.5 234.46h20M75.5 213.28h5M587.5 213.28h-5M326.5 213.28h10M75.5 192.11h10M587.5 192.11h-10M321.5 192.11h20M75.5 170.93h5M587.5 170.93h-5M326.5 170.93h10M75.5 149.75h10M587.5 149.75h-10M321.5 149.75h20M75.5 128.58h5M587.5 128.58h-5M326.5 128.58h10M75.5 107.40h10M587.5 107.40h-10M321.5 107.40h20M75.5 86.22h5M587.5 86.22h-5M326.5 86.22h10M75.5 65.05h10M587.5 65.05h-10M321.5 65.05h20M75.5 43.87h5M587.5 43.87h-5M326.5 43.87h10M75.5 22.69h10M587.5 22.69h-10M321.5 22.69h20" stroke-width="1.4"/>
</g>
<g font-size="21.7" fill="#000">
<text transform="translate(70.4,30.49) scale(1,1.09)" text-anchor="end">80</text>
<text transform="translate(592.5,30.49) scale(1,1.09)">80</text>
<text transform="translate(70.4,72.85) scale(1,1.09)" text-anchor="end">40</text>
<text transform="translate(592.5,72.85) scale(1,1.09)">40</text>
<text transform="translate(70.4,115.20) scale(1,1.09)" text-anchor="end">0</text>
<text transform="translate(592.5,115.20) scale(1,1.09)">0</text>
<text transform="translate(70.4,157.55) scale(1,1.09)" text-anchor="end">-40</text>
<text transform="translate(592.5,157.55) scale(1,1.09)">-40</text>
<text transform="translate(70.4,199.91) scale(1,1.09)" text-anchor="end">-80</text>
<text transform="translate(592.5,199.91) scale(1,1.09)">-80</text>
<text transform="translate(70.4,242.26) scale(1,1.09)" text-anchor="end">-120</text>
<text transform="translate(592.5,242.26) scale(1,1.09)">-120</text>
<text transform="translate(70.4,284.61) scale(1,1.09)" text-anchor="end">-160</text>
<text transform="translate(592.5,284.61) scale(1,1.09)">-160</text>
<text transform="translate(70.4,326.96) scale(1,1.09)" text-anchor="end">-200</text>
<text transform="translate(592.5,326.96) scale(1,1.09)">-200</text>
<text transform="translate(75.50,382.1) scale(1,1.09)" text-anchor="middle">6</text>
<text transform="translate(118.17,382.1) scale(1,1.09)" text-anchor="middle">5</text>
<text transform="translate(160.83,382.1) scale(1,1.09)" text-anchor="middle">4</text>
<text transform="translate(203.50,382.1) scale(1,1.09)" text-anchor="middle">3</text>
<text transform="translate(246.17,382.1) scale(1,1.09)" text-anchor="middle">2</text>
<text transform="translate(288.83,382.1) scale(1,1.09)" text-anchor="middle">1</text>
<text transform="translate(331.50,382.1) scale(1,1.09)" text-anchor="middle">0</text>
<text transform="translate(374.17,382.1) scale(1,1.09)" text-anchor="middle">1</text>
<text transform="translate(416.83,382.1) scale(1,1.09)" text-anchor="middle">2</text>
<text transform="translate(459.50,382.1) scale(1,1.09)" text-anchor="middle">3</text>
<text transform="translate(502.17,382.1) scale(1,1.09)" text-anchor="middle">4</text>
<text transform="translate(544.83,382.1) scale(1,1.09)" text-anchor="middle">5</text>
<text transform="translate(587.50,382.1) scale(1,1.09)" text-anchor="middle">6</text>
</g>
<text transform="translate(203.8,401.7) scale(1,1.05)" font-size="21.7" text-anchor="middle">r (fm)</text>
<text transform="translate(459.8,401.7) scale(1,1.05)" font-size="21.7" text-anchor="middle">r (fm)</text>
<g transform="translate(20.2,0) rotate(-90)" font-size="21.7">
<text x="-242.6 -228.30 -220.1" y="0">ReV</text>
<text x="-200" y="-9.4" font-size="14.5">S</text>
<text x="-203.6" y="9.3" font-size="15.3">opt</text>
<text x="-178.2" y="0">(MeV)</text>
</g>
<g transform="translate(650.2,0) rotate(-90)" font-size="21.7">
<text x="-242.6 -235.40 -220.1" y="0">ImV</text>
<text x="-200" y="-9.4" font-size="14.5">S</text>
<text x="-203.6" y="9.3" font-size="15.3">opt</text>
<text x="-178.2" y="0">(MeV)</text>
</g>
<text x="223.1" y="62.5" font-size="18.6" fill="#009000">th free</text>
<text x="212.7" y="144.7" font-size="18.6" fill="#0000ff">th medium</text>
<text x="221.2" y="211.9" font-size="18.6" fill="#ff0000">p atom</text>
<line x1="221.4" y1="197.4" x2="230" y2="197.4" stroke="#ff0000" stroke-width="1"/>
<text x="211.4" y="320.5" font-size="18.6" fill="#000">p nucleus</text>
<line x1="211.2" y1="305.6" x2="220.3" y2="305.6" stroke="#000" stroke-width="1"/>
<text transform="translate(492.6,45.2) scale(1,1.1)" font-size="21.7" fill="#000">Ca + p</text>
<line x1="539.8" y1="27.7" x2="550.6" y2="27.7" stroke="#000" stroke-width="1"/>
</svg>
</div></body></html>
